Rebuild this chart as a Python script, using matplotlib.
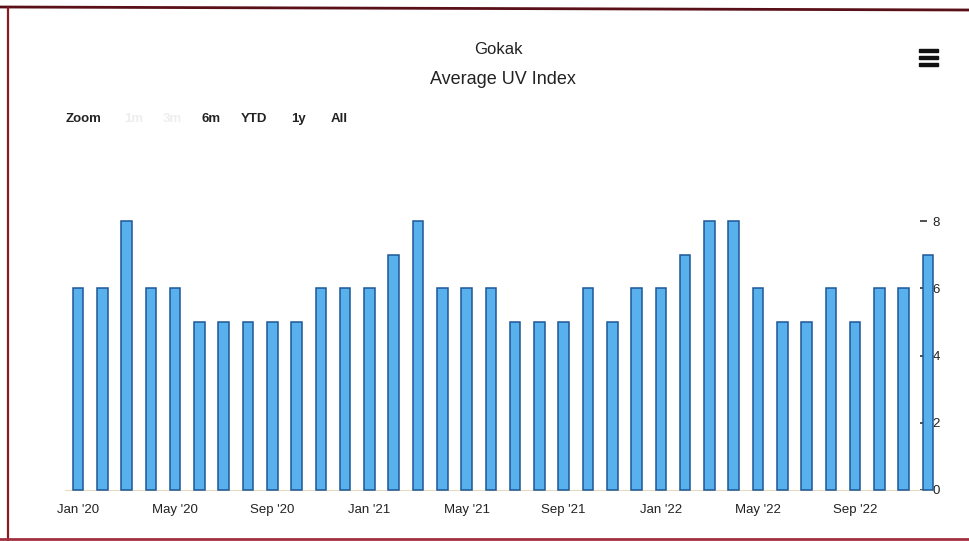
import matplotlib
matplotlib.use("Agg")
import matplotlib.pyplot as plt
from matplotlib.patches import Rectangle
from matplotlib.lines import Line2D

plt.rcParams['font.family'] = ['Liberation Sans', 'DejaVu Sans']

# Monthly average UV index, Jan 2020 - Dec 2022
months = ["Jan '20", "Feb '20", "Mar '20", "Apr '20", "May '20", "Jun '20",
          "Jul '20", "Aug '20", "Sep '20", "Oct '20", "Nov '20", "Dec '20",
          "Jan '21", "Feb '21", "Mar '21", "Apr '21", "May '21", "Jun '21",
          "Jul '21", "Aug '21", "Sep '21", "Oct '21", "Nov '21", "Dec '21",
          "Jan '22", "Feb '22", "Mar '22", "Apr '22", "May '22", "Jun '22",
          "Jul '22", "Aug '22", "Sep '22", "Oct '22", "Nov '22", "Dec '22"]
uv_index = [6, 6, 8, 6, 6, 5, 5, 5, 5, 5, 6, 6,
            6, 7, 8, 6, 6, 6, 5, 5, 5, 6, 5, 6,
            6, 7, 8, 8, 6, 5, 5, 6, 5, 6, 6, 7]
y_ticks = [0, 2, 4, 6, 8]
range_buttons = ["Zoom", "1m", "3m", "6m", "YTD", "1y", "All"]

W, H = 969, 541
fig = plt.figure(figsize=(W / 100, H / 100), dpi=100)
fig.patch.set_facecolor('white')

def fx(px):
    return px / W

def fy(py):
    return 1 - py / H

# plot area: x 65..927 px, y 221..490 px
ax = fig.add_axes([fx(65), fy(490), fx(927 - 65), (490 - 221) / H])
x = list(range(len(months)))
ax.bar(x, uv_index, width=0.44, color='#58b0ec', edgecolor='#1d5796',
       linewidth=1.1, clip_on=False, zorder=3)

step = 24.27
ax.set_xlim(-(78 - 65) / step, 35 - (928 - 927) / step)
ax.set_ylim(0, 8)

for s in ['top', 'left', 'right']:
    ax.spines[s].set_visible(False)
ax.spines['bottom'].set_color('#e8dcc0')
ax.spines['bottom'].set_linewidth(0.8)

ax.set_xticks(x[::4])
ax.set_xticklabels(months[::4], fontsize=9.5, color='#222222')
ax.tick_params(axis='x', length=0, pad=10)

ax.yaxis.tick_right()
ax.set_yticks(y_ticks)
ax.set_yticklabels([str(v) for v in y_ticks], fontsize=9.5, color='#222222')
ax.tick_params(axis='y', direction='in', length=5, width=1.2, color='#333333', pad=4)
for lbl in ax.get_yticklabels():
    lbl.set_y(lbl.get_position()[1])

# titles
fig.text(fx(498), fy(49), "Gokak", ha='center', va='center', fontsize=12, color='#222222')
fig.text(fx(503), fy(79), "Average UV Index", ha='center', va='center', fontsize=13, color='#222222')

# range selector
btn_x = [66, 124, 163, 202, 241, 291, 331]
btn_alpha = [1, 0.08, 0.08, 1, 1, 1, 1]
for label, bx, a in zip(range_buttons, btn_x, btn_alpha):
    fig.text(fx(bx), fy(119), label, ha='left', va='center', fontsize=9.5,
             fontweight='bold', color='#222222', alpha=a)

# menu icon
for yy in [50, 57, 64]:
    fig.patches.append(Rectangle((fx(919), fy(yy + 1.5)), fx(19), 3 / H,
                                 transform=fig.transFigure, color='#111111'))

# frame edges
fig.lines.append(Line2D([fx(0), fx(969)], [fy(7), fy(10)], transform=fig.transFigure,
                        color='#5a1018', linewidth=2.0))
fig.lines.append(Line2D([fx(8), fx(8)], [fy(8), fy(541)], transform=fig.transFigure,
                        color='#8a1a24', linewidth=1.6))
fig.lines.append(Line2D([fx(0), fx(969)], [fy(539), fy(539)], transform=fig.transFigure,
                        color='#a33040', linewidth=2.0))

fig.savefig('out.png', dpi=100, facecolor='white')
